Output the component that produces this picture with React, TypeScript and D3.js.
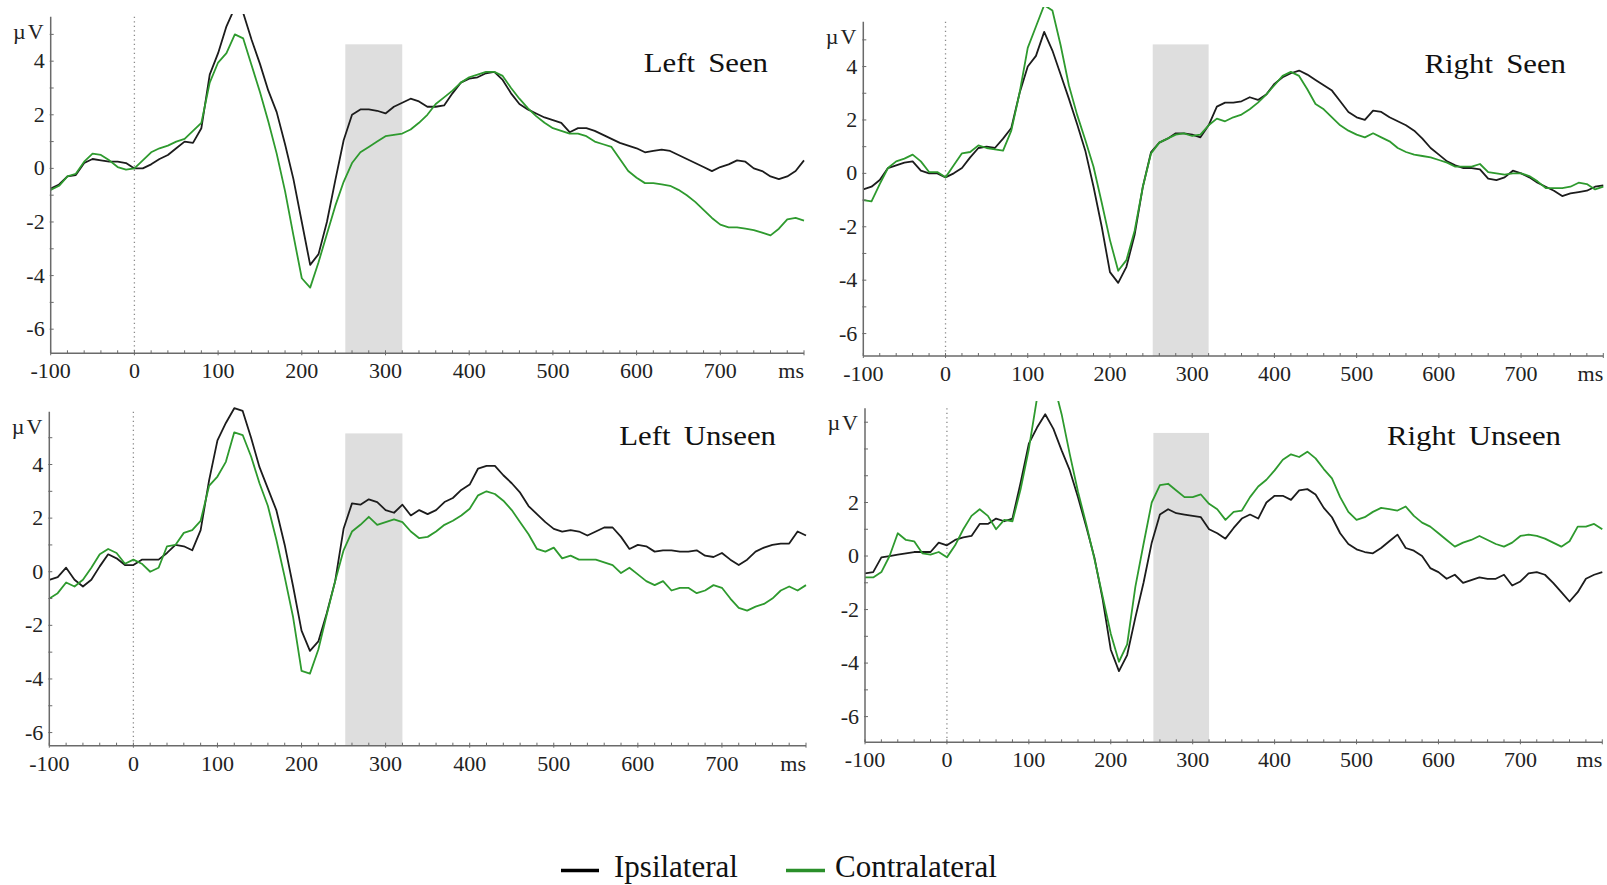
import React from 'react';
import * as d3 from 'd3';

// ---------- DATA ----------
const TIMES: number[] = d3.range(-100, 801, 10); // sample times (ms)
const X_TICK_VALUES = [-100, 0, 100, 200, 300, 400, 500, 600, 700];
const Y_TICK_VALUES = [-6, -4, -2, 0, 2, 4];
const Y_TICK_VALUES_RU = [-6, -4, -2, 0, 2];
const TITLES = ['Left Seen', 'Right Seen', 'Left Unseen', 'Right Unseen'];
const SERIES_NAMES = ['Ipsilateral', 'Contralateral'];
const ANALYSIS_WINDOW = [252, 320];
const X_UNIT = 'ms';
const Y_UNIT = 'µV';

const leftSeenIpsi = [
  -0.75, -0.6, -0.3, -0.25, 0.2, 0.35, 0.3, 0.25, 0.25, 0.2,
  0.0, 0.0, 0.15, 0.35, 0.5, 0.75, 1.0, 0.95, 1.5, 3.5,
  4.3, 5.3, 6.0, 5.8, 4.8, 3.9, 2.9, 2.1, 0.9, -0.4,
  -2.0, -3.6, -3.2, -2.0, -0.45, 1.05, 2.0, 2.2, 2.2, 2.15,
  2.05, 2.3, 2.45, 2.6, 2.5, 2.3, 2.3, 2.35, 2.8, 3.2,
  3.35, 3.4, 3.55, 3.6, 3.3, 2.8, 2.4, 2.2, 2.05, 1.9,
  1.8, 1.7, 1.35, 1.5, 1.5, 1.4, 1.25, 1.1, 0.95, 0.85,
  0.75, 0.6, 0.65, 0.7, 0.65, 0.5, 0.35, 0.2, 0.05, -0.1,
  0.05, 0.15, 0.3, 0.25, 0.0, -0.1, -0.3, -0.4, -0.3, -0.1,
  0.3,
];
const leftSeenContra = [
  -0.8, -0.65, -0.3, -0.2, 0.25, 0.55, 0.5, 0.3, 0.05, -0.05,
  0.0, 0.3, 0.6, 0.75, 0.85, 1.0, 1.1, 1.4, 1.7, 3.2,
  3.95, 4.3, 5.0, 4.85, 3.85, 2.85, 1.75, 0.55, -0.85, -2.5,
  -4.1, -4.45, -3.5, -2.45, -1.4, -0.5, 0.2, 0.6, 0.8, 1.0,
  1.2, 1.25, 1.3, 1.45, 1.7, 2.0, 2.4, 2.65, 2.9, 3.2,
  3.4, 3.5, 3.6, 3.6, 3.45, 3.0, 2.6, 2.25, 1.95, 1.7,
  1.5, 1.4, 1.3, 1.3, 1.2, 1.0, 0.9, 0.8, 0.35, -0.1,
  -0.35, -0.55, -0.55, -0.6, -0.65, -0.8, -1.0, -1.25, -1.55, -1.85,
  -2.1, -2.2, -2.2, -2.25, -2.3, -2.4, -2.5, -2.25, -1.9, -1.85,
  -1.95,
];
const rightSeenIpsi = [
  -0.6, -0.5, -0.25, 0.2, 0.3, 0.4, 0.45, 0.1, 0.0, 0.0,
  -0.15, 0.0, 0.2, 0.6, 0.95, 1.0, 0.95, 1.3, 1.7, 3.0,
  4.0, 4.4, 5.3, 4.6, 3.7, 2.8, 1.85, 0.85, -0.5, -2.0,
  -3.7, -4.1, -3.5, -2.3, -0.5, 0.8, 1.15, 1.3, 1.5, 1.5,
  1.45, 1.35, 1.8, 2.5, 2.65, 2.65, 2.7, 2.85, 2.75, 2.95,
  3.35, 3.6, 3.75, 3.85, 3.7, 3.5, 3.3, 3.1, 2.7, 2.3,
  2.1, 2.0, 2.35, 2.3, 2.1, 1.95, 1.8, 1.6, 1.3, 0.95,
  0.7, 0.45, 0.3, 0.2, 0.2, 0.15, -0.2, -0.25, -0.15, 0.1,
  0.0, -0.15, -0.35, -0.5, -0.65, -0.85, -0.75, -0.7, -0.65, -0.5,
  -0.45,
];
const rightSeenContra = [
  -1.0, -1.05, -0.4, 0.2, 0.45, 0.55, 0.7, 0.45, 0.05, 0.05,
  -0.15, 0.3, 0.75, 0.8, 1.05, 0.95, 0.9, 0.85, 1.6, 3.0,
  4.7, 5.5, 6.3, 6.1, 4.8, 3.3, 2.2, 1.25, 0.25, -1.1,
  -2.5, -3.65, -3.25, -2.15, -0.5, 0.75, 1.15, 1.3, 1.45, 1.5,
  1.4, 1.45, 1.8, 2.05, 1.95, 2.1, 2.2, 2.4, 2.65, 2.95,
  3.3, 3.65, 3.8, 3.65, 3.15, 2.6, 2.4, 2.1, 1.8, 1.6,
  1.45, 1.35, 1.5, 1.35, 1.2, 0.95, 0.8, 0.7, 0.65, 0.6,
  0.5, 0.4, 0.25, 0.25, 0.25, 0.35, 0.05, 0.0, -0.05, 0.0,
  0.0, -0.1, -0.3, -0.55, -0.55, -0.55, -0.5, -0.35, -0.4, -0.6,
  -0.5,
];
const leftUnseenIpsi = [
  -0.3, -0.2, 0.15, -0.3, -0.55, -0.3, 0.2, 0.65, 0.5, 0.25,
  0.25, 0.45, 0.45, 0.45, 0.7, 1.0, 0.95, 0.8, 1.55, 3.4,
  4.9, 5.55, 6.1, 6.0, 5.0, 3.9, 3.1, 2.3, 1.0, -0.55,
  -2.2, -2.95, -2.6, -1.55, -0.35, 1.6, 2.55, 2.5, 2.7, 2.6,
  2.3, 2.2, 2.5, 2.1, 2.3, 2.15, 2.3, 2.6, 2.75, 3.05,
  3.25, 3.85, 3.95, 3.95, 3.6, 3.3, 2.95, 2.45, 2.15, 1.85,
  1.6, 1.5, 1.55, 1.5, 1.35, 1.5, 1.65, 1.65, 1.3, 0.85,
  1.0, 0.95, 0.75, 0.8, 0.8, 0.75, 0.75, 0.8, 0.6, 0.55,
  0.7, 0.45, 0.25, 0.45, 0.75, 0.9, 1.0, 1.05, 1.05, 1.5,
  1.35,
];
const leftUnseenContra = [
  -1.0, -0.8, -0.4, -0.55, -0.3, 0.15, 0.65, 0.85, 0.7, 0.3,
  0.45, 0.3, 0.0, 0.15, 0.95, 1.0, 1.45, 1.55, 1.9, 3.2,
  3.55, 4.1, 5.2, 5.1, 4.3, 3.3, 2.45, 1.2, -0.2, -1.7,
  -3.7, -3.8, -2.9, -1.6, -0.35, 0.8, 1.5, 1.75, 2.05, 1.75,
  1.85, 1.95, 1.85, 1.5, 1.25, 1.3, 1.5, 1.75, 1.9, 2.1,
  2.35, 2.85, 3.0, 2.9, 2.65, 2.3, 1.85, 1.4, 0.85, 0.75,
  0.9, 0.5, 0.6, 0.45, 0.45, 0.45, 0.35, 0.25, -0.05, 0.15,
  -0.1, -0.35, -0.5, -0.35, -0.7, -0.6, -0.6, -0.8, -0.7, -0.5,
  -0.6, -1.0, -1.35, -1.45, -1.3, -1.2, -1.0, -0.7, -0.55, -0.7,
  -0.5,
];
const rightUnseenIpsi = [
  -0.65, -0.6, -0.05, 0.0, 0.05, 0.1, 0.15, 0.15, 0.15, 0.5,
  0.4, 0.6, 0.7, 0.75, 1.2, 1.2, 1.4, 1.3, 1.4, 2.75,
  4.2, 4.8, 5.3, 4.75, 3.95, 3.2, 2.2, 1.1, -0.05, -1.6,
  -3.5, -4.3, -3.7, -2.3, -1.0, 0.5, 1.55, 1.75, 1.6, 1.55,
  1.5, 1.45, 1.0, 0.85, 0.65, 1.05, 1.4, 1.55, 1.4, 2.0,
  2.25, 2.25, 2.1, 2.45, 2.5, 2.3, 1.8, 1.45, 0.85, 0.45,
  0.25, 0.15, 0.1, 0.3, 0.55, 0.8, 0.3, 0.2, 0.0, -0.45,
  -0.6, -0.85, -0.7, -1.0, -0.9, -0.8, -0.85, -0.85, -0.7, -1.1,
  -0.95, -0.65, -0.6, -0.7, -1.0, -1.35, -1.7, -1.35, -0.85, -0.7,
  -0.6,
];
const rightUnseenContra = [
  -0.8, -0.8, -0.6, 0.0, 0.85, 0.6, 0.55, 0.1, 0.05, 0.15,
  -0.05, 0.4, 1.0, 1.5, 1.75, 1.5, 1.0, 1.35, 1.3, 2.5,
  4.0, 5.9, 6.4, 6.5, 5.3, 3.8, 2.4, 1.2, -0.1, -1.5,
  -2.9, -3.95, -3.3, -1.15, 0.45, 2.0, 2.65, 2.7, 2.45, 2.2,
  2.2, 2.3, 1.95, 1.75, 1.35, 1.65, 1.7, 2.2, 2.6, 2.85,
  3.2, 3.6, 3.8, 3.7, 3.9, 3.65, 3.25, 2.9, 2.2, 1.65,
  1.35, 1.45, 1.65, 1.8, 1.75, 1.7, 1.85, 1.5, 1.25, 1.1,
  0.85, 0.6, 0.35, 0.5, 0.6, 0.75, 0.6, 0.45, 0.35, 0.5,
  0.75, 0.8, 0.75, 0.65, 0.5, 0.35, 0.55, 1.1, 1.1, 1.2,
  1.0,
];

const PANEL_DATA = [
  { title: TITLES[0], ipsi: leftSeenIpsi, contra: leftSeenContra, yTicks: Y_TICK_VALUES },
  { title: TITLES[1], ipsi: rightSeenIpsi, contra: rightSeenContra, yTicks: Y_TICK_VALUES },
  { title: TITLES[2], ipsi: leftUnseenIpsi, contra: leftUnseenContra, yTicks: Y_TICK_VALUES },
  { title: TITLES[3], ipsi: rightUnseenIpsi, contra: rightUnseenContra, yTicks: Y_TICK_VALUES_RU },
];

// ---------- LAYOUT / STYLE ----------
const LAYOUT = [
  { left: 50.7, right: 804, top: 16.7, bottom: 353.3, yMin: -6.9, yMax: 5.66, clipTop: 14, shadeTop: 4.63, titleRight: 768, titleY: 72 },
  { left: 863.3, right: 1603.3, top: 21.7, bottom: 356, yMin: -6.84, yMax: 5.68, clipTop: 7, shadeTop: 4.83, titleRight: 1566, titleY: 72.5 },
  { left: 49.3, right: 806, top: 411.7, bottom: 745.7, yMin: -6.49, yMax: 5.97, clipTop: 405, shadeTop: 5.16, titleRight: 776, titleY: 445 },
  { left: 865, right: 1602.3, top: 408.3, bottom: 742.3, yMin: -6.96, yMax: 5.52, clipTop: 401, shadeTop: 4.6, titleRight: 1561, titleY: 445 },
];

const COLORS = { ipsi: '#1c1c1c', contra: '#2e9a2e', axis: '#6a6a6a', shade: '#dedede', text: '#222' };
const FONT = "'Liberation Serif', 'Times New Roman', serif";

function Panel({ idx }: { idx: number }) {
  const d = PANEL_DATA[idx];
  const L = LAYOUT[idx];
  const x = d3.scaleLinear().domain([-100, 800]).range([L.left, L.right]);
  const y = d3.scaleLinear().domain([L.yMin, L.yMax]).range([L.bottom, L.top]);
  const line = d3
    .line<number>()
    .x((_, i) => x(TIMES[i]))
    .y((v) => y(v))
    .curve(d3.curveLinear);
  const clipId = `clip-${idx}`;
  const minorX = d3.range(-100, 801, 20);
  const minorY = d3.range(-6, Math.floor(L.yMax) + 1, 1);
  return (
    <g>
      <defs>
        <clipPath id={clipId}>
          <rect x={L.left} y={L.clipTop} width={L.right - L.left + 2} height={L.bottom - L.clipTop} />
        </clipPath>
      </defs>
      <rect
        x={x(ANALYSIS_WINDOW[0])}
        y={y(L.shadeTop)}
        width={x(ANALYSIS_WINDOW[1]) - x(ANALYSIS_WINDOW[0])}
        height={L.bottom - y(L.shadeTop)}
        fill={COLORS.shade}
      />
      <line x1={x(0)} x2={x(0)} y1={L.top} y2={L.bottom} stroke="#8a8a8a" strokeWidth={1.3} strokeDasharray="1.3,3.2" />
      <g clipPath={`url(#${clipId})`}>
        <path d={line(d.ipsi) || ''} fill="none" stroke={COLORS.ipsi} strokeWidth={1.8} strokeLinejoin="round" />
        <path d={line(d.contra) || ''} fill="none" stroke={COLORS.contra} strokeWidth={1.8} strokeLinejoin="round" />
      </g>
      {/* axes */}
      <line x1={L.left} x2={L.left} y1={L.top} y2={L.bottom} stroke={COLORS.axis} strokeWidth={1.5} />
      <line x1={L.left} x2={L.right} y1={L.bottom} y2={L.bottom} stroke={COLORS.axis} strokeWidth={1.5} />
      {minorX.map((t) => (
        <line key={`mx${t}`} x1={x(t)} x2={x(t)} y1={L.bottom - 3} y2={L.bottom + (t % 100 === 0 ? 2 : 0)} stroke={COLORS.axis} strokeWidth={1} />
      ))}
      {minorY.map((v) => (
        <line key={`my${v}`} x1={L.left - 1} x2={L.left + 3} y1={y(v)} y2={y(v)} stroke={COLORS.axis} strokeWidth={1} />
      ))}
      {X_TICK_VALUES.map((t) => (
        <text key={`xl${t}`} x={x(t)} y={L.bottom + 25} textAnchor="middle" fontFamily={FONT} fontSize={22} fill={COLORS.text}>
          {t}
        </text>
      ))}
      <text x={L.right} y={L.bottom + 25} textAnchor="end" fontFamily={FONT} fontSize={22} fill={COLORS.text}>
        {X_UNIT}
      </text>
      {d.yTicks.map((v) => (
        <text key={`yl${v}`} x={L.left - 6} y={y(v) + 7} textAnchor="end" fontFamily={FONT} fontSize={22} fill={COLORS.text}>
          {v}
        </text>
      ))}
      <text x={L.left - 5} y={L.top + 22} textAnchor="end" fontFamily={FONT} fontSize={22} letterSpacing={2} fill={COLORS.text}>
        {Y_UNIT}
      </text>
      <text
        transform={`translate(${L.titleRight},${L.titleY}) scale(1.1,1)`}
        textAnchor="end"
        fontFamily={FONT}
        fontSize={28}
        wordSpacing={5}
        fill="#111"
      >
        {d.title}
      </text>
    </g>
  );
}

export default function App() {
  return (
    <svg
      width={1607}
      height={885}
      style={{ position: 'absolute', left: 0, top: 0, background: '#fff' }}
      xmlns="http://www.w3.org/2000/svg"
    >
      <rect x={0} y={0} width={1607} height={885} fill="#fff" />
      {PANEL_DATA.map((_, i) => (
        <Panel key={i} idx={i} />
      ))}
      {/* legend */}
      <g fontFamily={FONT} fontSize={31} fill="#111">
        <line x1={561} x2={599} y1={870.5} y2={870.5} stroke="#000" strokeWidth={3.5} />
        <text x={614} y={876.5}>{SERIES_NAMES[0]}</text>
        <line x1={786} x2={825} y1={870.5} y2={870.5} stroke="#2a8f2a" strokeWidth={3.5} />
        <text x={835} y={876.5}>{SERIES_NAMES[1]}</text>
      </g>
    </svg>
  );
}
